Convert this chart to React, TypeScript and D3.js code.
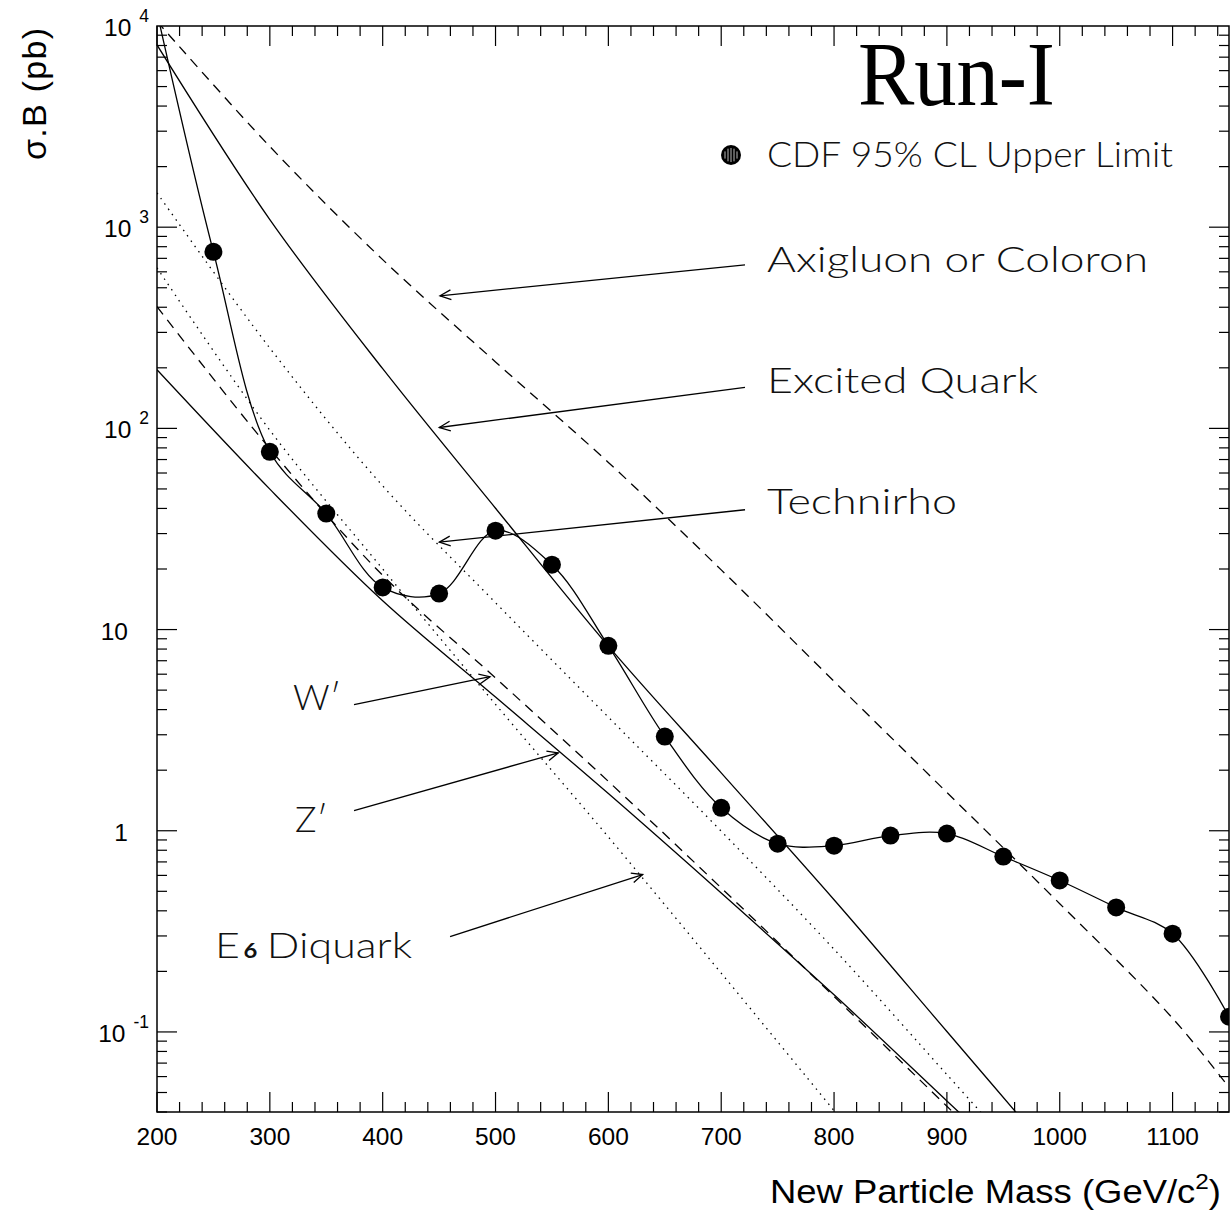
import React, { useEffect, useRef } from 'react';
import * as d3 from 'd3';

// CDF 95% CL upper limit (pb)
const limitMass = [200, 250, 300, 350, 400, 450, 500, 550, 600, 650, 700, 750, 800, 850, 900, 950, 1000, 1050, 1100, 1150];
const limitValue = [11700, 754, 76.5, 37.7, 16.2, 15.1, 31, 21, 8.3, 2.94, 1.3, 0.863, 0.843, 0.946, 0.968, 0.744, 0.566, 0.416, 0.308, 0.119];

// theory curves
const axigluonMass = [200, 300, 400, 500, 600, 700, 800, 900, 1000, 1100, 1150];
const axigluonValue = [10550, 2518, 690, 214, 67.7, 19.8, 5.53, 1.55, 0.434, 0.117, 0.053];

const quarkMass = [200, 300, 400, 500, 600, 700, 800, 900, 1000];
const quarkValue = [8050, 1091, 198, 40.1, 8.28, 1.94, 0.454, 0.1005, 0.0222];

const technirhoMass = [200, 300, 400, 500, 600, 700, 800, 900, 950];
const technirhoValue = [1480, 250.6, 51.8, 13.6, 3.67, 0.995, 0.2576, 0.0614, 0.0299];

const wPrimeMass = [200, 300, 400, 500, 600, 700, 800, 900, 950];
const wPrimeValue = [403, 79.2, 18.6, 5.75, 1.76, 0.52, 0.15, 0.0427, 0.0228];

const zPrimeMass = [200, 300, 400, 500, 600, 700, 800, 900, 950];
const zPrimeValue = [195.5, 49.9, 13.9, 4.62, 1.53, 0.49, 0.153, 0.0454, 0.0248];

const diquarkMass = [200, 300, 400, 500, 600, 700, 800, 850];
const diquarkValue = [628, 97.9, 20.0, 4.25, 0.931, 0.196, 0.0406, 0.0183];

const xTickLabels = [200, 300, 400, 500, 600, 700, 800, 900, 1000, 1100];
const yDecades = [10000, 1000, 100, 10, 1, 0.1];
const yDecadeExp = ['4', '3', '2', '', '', '-1'];
const yDecadeBase = ['10', '10', '10', '10', '1', '10'];

export default function App() {
  const ref = useRef<SVGSVGElement>(null);

  useEffect(() => {
    const W = 1230, H = 1215;
    const left = 157, right = 1229, top = 26, bottom = 1112;

    const svg = d3.select(ref.current);
    svg.selectAll('*').remove();
    svg.attr('width', W).attr('height', H);

    svg.append('rect').attr('width', W).attr('height', H).attr('fill', '#fff');

    const x = d3.scaleLinear().domain([200, 1150]).range([left, right]);
    const y = d3.scaleLog().domain([0.04, 10000]).range([bottom, top]);

    svg.append('defs').append('clipPath').attr('id', 'plotclip')
      .append('rect')
      .attr('x', left).attr('y', top)
      .attr('width', right - left).attr('height', bottom - top);

    const sans = '"Liberation Sans", Arial, Helvetica, sans-serif';
    const label = 'Lato, "Open Sans", sans-serif';

    // frame
    svg.append('rect')
      .attr('x', left).attr('y', top)
      .attr('width', right - left).attr('height', bottom - top)
      .attr('fill', 'none').attr('stroke', '#000').attr('stroke-width', 1.5);

    // x ticks (inward, bottom and top)
    const ax = svg.append('g').attr('stroke', '#000').attr('stroke-width', 1.2);
    for (let m = 200; m <= 1150; m += 20) {
      const len = m % 100 === 0 ? 20 : 10;
      const px = x(m);
      ax.append('line').attr('x1', px).attr('x2', px).attr('y1', bottom).attr('y2', bottom - len);
      ax.append('line').attr('x1', px).attr('x2', px).attr('y1', top).attr('y2', top + len);
    }
    // y ticks (inward, left and right)
    for (let e = -2; e <= 3; e++) {
      for (let k = 1; k <= 9; k++) {
        const v = k * Math.pow(10, e);
        if (v < 0.04 || v > 10000) continue;
        const len = k === 1 ? 20 : 10;
        const py = y(v);
        ax.append('line').attr('x1', left).attr('x2', left + len).attr('y1', py).attr('y2', py);
        ax.append('line').attr('x1', right).attr('x2', right - len).attr('y1', py).attr('y2', py);
      }
    }

    // x tick labels
    svg.append('g').selectAll('text')
      .data(xTickLabels)
      .enter().append('text')
      .attr('x', d => x(d))
      .attr('y', bottom + 33)
      .attr('text-anchor', 'middle')
      .attr('font-family', sans)
      .attr('font-size', 24.5)
      .text(d => d);

    // y tick labels
    yDecades.forEach((v, i) => {
      const t = svg.append('text')
        .attr('y', y(v) + 10)
        .attr('font-family', sans)
        .attr('font-size', 24.5);
      if (yDecadeExp[i]) {
        t.attr('x', 149).attr('text-anchor', 'end');
        t.append('tspan').text(yDecadeBase[i]);
        t.append('tspan').attr('dx', 8).attr('dy', -14).attr('font-size', 17.5).text(yDecadeExp[i]);
      } else {
        t.attr('x', 128).attr('text-anchor', 'end').text(yDecadeBase[i]);
      }
    });

    // axis titles
    const xt = svg.append('text')
      .attr('x', 770).attr('y', 1203)
      .attr('font-family', sans)
      .attr('font-size', 33)
      .attr('textLength', 451)
      .attr('lengthAdjust', 'spacingAndGlyphs');
    xt.append('tspan').text('New Particle Mass (GeV/c');
    xt.append('tspan').attr('dy', -14).attr('font-size', 22).text('2');
    xt.append('tspan').attr('dy', 14).text(')');

    svg.append('text')
      .attr('transform', 'translate(46,160) rotate(-90)')
      .attr('font-family', sans)
      .attr('font-size', 34)
      .attr('textLength', 132)
      .text('σ.B (pb)');

    // curves
    const line = d3.line<[number, number]>()
      .x(d => x(d[0]))
      .y(d => y(d[1]))
      .curve(d3.curveCatmullRom.alpha(0.5));

    const plot = svg.append('g').attr('clip-path', 'url(#plotclip)');

    const series = [
      { m: axigluonMass, v: axigluonValue, dash: '10,7' },
      { m: quarkMass, v: quarkValue, dash: null },
      { m: technirhoMass, v: technirhoValue, dash: '1.5,5' },
      { m: wPrimeMass, v: wPrimeValue, dash: '10,7' },
      { m: zPrimeMass, v: zPrimeValue, dash: null },
      { m: diquarkMass, v: diquarkValue, dash: '1.5,5' },
      { m: limitMass, v: limitValue, dash: null },
    ];
    series.forEach(s => {
      const pts = s.m.map((m, i) => [m, s.v[i]] as [number, number]);
      plot.append('path')
        .attr('d', line(pts))
        .attr('fill', 'none')
        .attr('stroke', '#000')
        .attr('stroke-width', 1.3)
        .attr('stroke-dasharray', s.dash);
    });

    // data points
    plot.selectAll('.pt')
      .data(limitMass)
      .enter().append('circle')
      .attr('class', 'pt')
      .attr('cx', d => x(d))
      .attr('cy', (d, i) => y(limitValue[i]))
      .attr('r', 9)
      .attr('fill', '#000');

    // annotations: arrows in data coordinates
    const arrows = [
      { from: [721.1, 649.6], to: [450.8, 456], text: 'Axigluon or Coloron', dx: 22, dy: 7, width: 381 },
      { from: [721.1, 160], to: [450.2, 101], text: 'Excited Quark', dx: 22, dy: 6, width: 271 },
      { from: [721.1, 39.4], to: [450.2, 27.2], text: 'Technirho', dx: 22, dy: 4, width: 190 },
      { from: [374.6, 4.24], to: [495.1, 5.83], text: 'W′', dx: -61, dy: 5, width: 0 },
      { from: [374.6, 1.26], to: [555.6, 2.44], text: 'Z′', dx: -59, dy: 21, width: 0 },
      { from: [459.7, 0.298], to: [630.4, 0.606], text: 'E6', dx: -235, dy: 21, width: 197 },
    ];
    const ann = svg.append('g');
    arrows.forEach(a => {
      const x1 = x(a.from[0]), y1 = y(a.from[1]);
      const x2 = x(a.to[0]), y2 = y(a.to[1]);
      ann.append('line')
        .attr('x1', x1).attr('y1', y1).attr('x2', x2).attr('y2', y2)
        .attr('stroke', '#000').attr('stroke-width', 1.3);
      const ang = Math.atan2(y1 - y2, x1 - x2);
      const hl = 12, spread = 0.42;
      const head = d3.path();
      head.moveTo(x2 + hl * Math.cos(ang + spread), y2 + hl * Math.sin(ang + spread));
      head.lineTo(x2, y2);
      head.lineTo(x2 + hl * Math.cos(ang - spread), y2 + hl * Math.sin(ang - spread));
      ann.append('path').attr('d', head.toString())
        .attr('fill', 'none').attr('stroke', '#000').attr('stroke-width', 1.3);

      const t = ann.append('text')
        .attr('x', x1 + a.dx).attr('y', y1 + a.dy)
        .attr('font-family', label)
        .attr('font-weight', 300)
        .attr('font-size', 36)
        .attr('fill', '#111');
      if (a.width) t.attr('textLength', a.width).attr('lengthAdjust', 'spacingAndGlyphs');
      if (a.text === 'E6') {
        t.append('tspan').text('E');
        t.append('tspan').attr('font-size', 20).attr('font-weight', 'bold').attr('dx', 3).text('6');
        t.append('tspan').attr('dx', 8).text('Diquark');
      } else {
        t.text(a.text);
      }
    });

    // legend
    const lx = 731, ly = 155;
    const lg = svg.append('g');
    lg.append('circle').attr('cx', lx).attr('cy', ly).attr('r', 10).attr('fill', '#000');
    for (let k = -2; k <= 2; k++) {
      const hx = lx + k * 3;
      const hh = Math.sqrt(Math.max(0, 49 - (k * 3) * (k * 3)));
      lg.append('line')
        .attr('x1', hx).attr('x2', hx)
        .attr('y1', ly - hh).attr('y2', ly + hh)
        .attr('stroke', '#bbb').attr('stroke-width', 1);
    }
    lg.append('text')
      .attr('x', 767).attr('y', 167)
      .attr('font-family', label)
      .attr('font-weight', 300)
      .attr('font-size', 36)
      .attr('fill', '#111')
      .attr('textLength', 406)
      .attr('lengthAdjust', 'spacingAndGlyphs')
      .text('CDF 95% CL Upper Limit');

    // run label
    svg.append('text')
      .attr('x', 858).attr('y', 105)
      .attr('font-family', '"Liberation Serif", "Times New Roman", serif')
      .attr('font-size', 90)
      .attr('textLength', 197)
      .attr('lengthAdjust', 'spacingAndGlyphs')
      .text('Run-I');
  }, []);

  return (
    <svg ref={ref} style={{ position: 'absolute', left: 0, top: 0, display: 'block' }}></svg>
  );
}
